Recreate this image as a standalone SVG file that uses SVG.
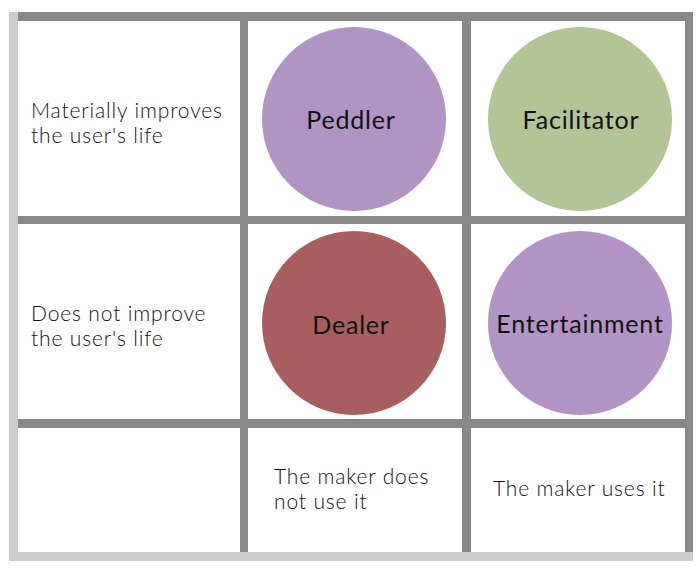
<svg xmlns="http://www.w3.org/2000/svg" width="700" height="570" viewBox="0 0 700 570">
  <style>
    .dark { fill: #888888; }
    .light { fill: #cccccc; }
    .lbl { font-family: Lato, "Noto Sans", "Liberation Sans", sans-serif; font-weight: 300; font-size: 21px; letter-spacing: 0.85px; fill: #111111; }
    .node { font-family: Lato, "Noto Sans", "Liberation Sans", sans-serif; font-size: 25px; letter-spacing: 0.8px; fill: #111111; text-anchor: middle; }
    .purple { fill: #b294c4; }
    .green { fill: #b3c496; }
    .red { fill: #a85e5e; }
  </style>
  <rect width="700" height="570" fill="#ffffff"/>
  <g id="grid">
    <rect class="light" x="9" y="12" width="9" height="549"/>
    <rect class="light" x="9" y="552" width="684" height="9"/>
    <rect class="dark" x="18" y="12" width="675" height="9"/>
    <rect class="dark" x="685" y="12" width="8" height="540"/>
    <rect class="dark" x="240" y="21" width="8" height="531"/>
    <rect class="dark" x="462" y="21" width="9" height="531"/>
    <rect class="dark" x="18" y="216" width="667" height="8"/>
    <rect class="dark" x="18" y="419" width="667" height="9"/>
  </g>
  <g id="labels">
    <text class="lbl" x="31" y="117.5">Materially improves</text>
    <text class="lbl" x="31" y="142.5">the user's life</text>
    <text class="lbl" x="31" y="320.5">Does not improve</text>
    <text class="lbl" x="31" y="345.5">the user's life</text>
    <text class="lbl" x="274" y="483.5">The maker does</text>
    <text class="lbl" x="274" y="508.5">not use it</text>
    <text class="lbl" x="493" y="496">The maker uses it</text>
  </g>
  <g id="peddler">
    <circle class="purple" cx="354" cy="119" r="92"/>
    <text class="node" x="351" y="129">Peddler</text>
  </g>
  <g id="facilitator">
    <circle class="green" cx="580" cy="119" r="92"/>
    <text class="node" x="581" y="129">Facilitator</text>
  </g>
  <g id="dealer">
    <circle class="red" cx="354" cy="323" r="92"/>
    <text class="node" x="351" y="334">Dealer</text>
  </g>
  <g id="entertainment">
    <circle class="purple" cx="580" cy="323" r="92"/>
    <text class="node" x="580" y="333">Entertainment</text>
  </g>
  <g id="connectors"/>
</svg>
